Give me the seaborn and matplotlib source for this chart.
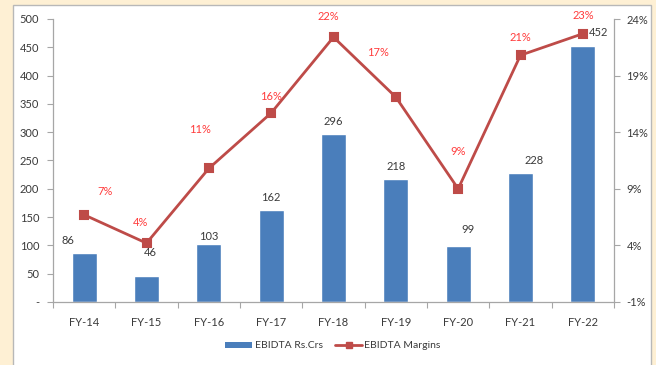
import numpy as np
import pandas as pd
import matplotlib
matplotlib.use("Agg")
import matplotlib.pyplot as plt
from matplotlib.patches import Rectangle, Patch
from matplotlib.lines import Line2D
import seaborn as sns

years = ["FY-14", "FY-15", "FY-16", "FY-17", "FY-18", "FY-19", "FY-20", "FY-21", "FY-22"]
ebidta = [86, 46, 103, 162, 296, 218, 99, 228, 452]
margins = [6.7, 4.2, 10.8, 15.7, 22.4, 17.1, 9.0, 20.8, 22.7]
left_ticks = [0, 50, 100, 150, 200, 250, 300, 350, 400, 450, 500]
right_ticks = [-1, 4, 9, 14, 19, 24]

# label offsets in points (dx, dy) relative to bar top / marker
bar_label_offsets = [(-12, 9), (3, 17), (0, 5), (0, 9), (0, 9), (0, 9), (7, 12), (10, 9), (11, 10)]
margin_label_offsets = [(15, 17), (-4, 15), (-6, 28), (0, 12), (-4, 15), (-13, 32), (0, 27), (0, 13), (0, 13)]

sns.set_theme(style="white")
plt.rcParams["font.family"] = ["Lato", "DejaVu Sans"]

BAR = "#4A7EBB"
LINE = "#BE4B48"
LABEL_RED = "#FF3B3B"
TEXT = "#3A3A3A"
AXIS = "#A6A6A6"
FS = 8

fig = plt.figure(figsize=(6.56, 3.65), dpi=100)
fig.patch.set_facecolor("#FEF0D4")
fig.patches.append(Rectangle((13 / 656, -0.02), (651 - 13) / 656, 1.02 - 5 / 365,
                             transform=fig.transFigure, facecolor="white",
                             edgecolor="#B8B8B8", linewidth=1.0, zorder=-5))

ax = fig.add_axes([53 / 656, 1 - 302 / 365, (614 - 53) / 656, (302 - 19) / 365])
ax.set_facecolor("none")

df = pd.DataFrame({"year": years, "ebidta": ebidta, "margin": margins})

sns.barplot(data=df, x="year", y="ebidta", color=BAR, width=0.4, saturation=1,
            ax=ax, zorder=2)
ax.set_ylim(0, 500)
ax.set_xlim(-0.5, len(years) - 0.5)
ax.set_yticks(left_ticks)
ax.set_yticklabels(["-" if v == 0 else str(v) for v in left_ticks])
ax.set_xlabel("")
ax.set_ylabel("")
ax.set_xticks(np.arange(len(years)))
ax.set_xticklabels(years)
ax.tick_params(axis="x", length=0, pad=11, labelsize=FS, colors=TEXT)
ax.tick_params(axis="y", length=4, width=0.8, color=AXIS, pad=6, labelsize=FS,
               labelcolor=TEXT, left=True)
# category boundary ticks on x axis
ax.set_xticks(np.arange(len(years) + 1) - 0.5, minor=True)
ax.tick_params(axis="x", which="minor", length=4, width=0.8, color=AXIS, bottom=True)
for s in ["top", "right"]:
    ax.spines[s].set_visible(False)
for s in ["left", "bottom"]:
    ax.spines[s].set_color(AXIS)
    ax.spines[s].set_linewidth(0.9)

for i, (v, (dx, dy)) in enumerate(zip(ebidta, bar_label_offsets)):
    ax.annotate(str(v), (i, v), xytext=(dx, dy), textcoords="offset points",
                ha="center", va="center", fontsize=FS, color=TEXT)

ax2 = ax.twinx()
sns.pointplot(data=df, x="year", y="margin", color=LINE, markers="s",
              linestyles="-", ax=ax2, markersize=6, linewidth=2, zorder=3)
ax2.set_xlim(-0.5, len(years) - 0.5)
ax2.set_ylim(-1, 24)
ax2.set_yticks(right_ticks)
ax2.set_yticklabels([f"{v}%" for v in right_ticks])
ax2.set_ylabel("")
ax2.set_xlabel("")
ax2.tick_params(axis="y", length=4, width=0.8, color=AXIS, pad=5, labelsize=FS,
                labelcolor=TEXT, right=True)
for s in ["top", "left", "bottom"]:
    ax2.spines[s].set_visible(False)
ax2.spines["right"].set_color(AXIS)
ax2.spines["right"].set_linewidth(0.9)

for i, (m, (dx, dy)) in enumerate(zip(margins, margin_label_offsets)):
    ax2.annotate(f"{m:.0f}%", (i, m), xytext=(dx, dy), textcoords="offset points",
                 ha="center", va="center", fontsize=FS, color=LABEL_RED)

handles = [Patch(facecolor=BAR, edgecolor="none"),
           Line2D([0], [0], color=LINE, lw=2, marker="s", markersize=5)]
fig.legend(handles, ["EBIDTA Rs.Crs", "EBIDTA Margins"], loc="center",
           bbox_to_anchor=(333 / 656, 1 - 346 / 365), ncol=2, frameon=False,
           fontsize=7.5, handlelength=2.6, handleheight=0.5, columnspacing=1.2,
           handletextpad=0.2, labelcolor=TEXT)

fig.savefig("out.png", dpi=100, facecolor=fig.get_facecolor())
